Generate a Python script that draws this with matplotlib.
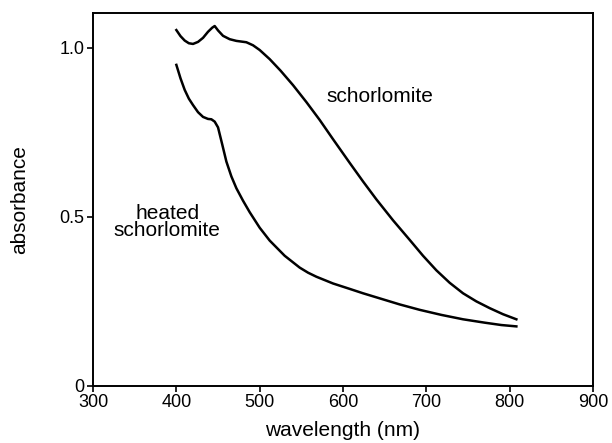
import matplotlib
matplotlib.use("Agg")
import matplotlib.pyplot as plt

plt.rcParams['font.family'] = ['Liberation Sans', 'DejaVu Sans']

# schorlomite spectrum
wl_schorl = [400, 405, 410, 415, 420, 426, 432, 438, 443, 446, 450, 456,
             464, 472, 484, 492, 500, 512, 525, 540, 556, 572, 588, 608,
             624, 640, 660, 680, 696, 712, 728, 744, 760, 776, 792, 808]
abs_schorl = [1.053, 1.035, 1.022, 1.014, 1.012, 1.018, 1.030, 1.048,
              1.060, 1.065, 1.052, 1.036, 1.026, 1.021, 1.017, 1.008,
              0.994, 0.967, 0.933, 0.890, 0.840, 0.787, 0.730, 0.660,
              0.605, 0.552, 0.490, 0.432, 0.385, 0.342, 0.305, 0.274,
              0.250, 0.230, 0.212, 0.197]

# heated schorlomite spectrum
wl_heated = [400, 405, 410, 415, 420, 426, 432, 438, 442, 446, 450, 455,
             460, 466, 472, 480, 488, 500, 512, 530, 548, 558, 568, 588,
             608, 624, 644, 668, 692, 718, 744, 770, 790, 808]
abs_heated = [0.950, 0.910, 0.876, 0.850, 0.831, 0.810, 0.796, 0.790,
              0.789, 0.782, 0.765, 0.715, 0.664, 0.620, 0.585, 0.548,
              0.514, 0.468, 0.430, 0.385, 0.350, 0.335, 0.323, 0.303,
              0.287, 0.274, 0.259, 0.241, 0.225, 0.210, 0.197, 0.187,
              0.180, 0.176]

x_ticks = [300, 400, 500, 600, 700, 800, 900]
y_ticks = [0, 0.5, 1.0]
y_tick_labels = ['0', '0.5', '1.0']

fig = plt.figure(figsize=(6.12, 4.43), dpi=100)
ax = fig.add_axes([0.152, 0.129, 0.817, 0.842])

ax.plot(wl_schorl, abs_schorl, color='black', lw=1.8,
        solid_joinstyle='round')
ax.plot(wl_heated, abs_heated, color='black', lw=1.8,
        solid_joinstyle='round')

ax.text(644, 0.855, 'schorlomite', fontsize=15, ha='center', va='center')
ax.text(389, 0.485, 'heated\nschorlomite', fontsize=15, ha='center',
        va='center', linespacing=0.9)

ax.set_xlim(300, 900)
ax.set_ylim(0, 1.104)
ax.set_xticks(x_ticks)
ax.set_yticks(y_ticks)
ax.set_yticklabels(y_tick_labels)
ax.tick_params(direction='out', length=4, width=1.2, labelsize=13, pad=2)
for s in ax.spines.values():
    s.set_linewidth(1.4)

ax.set_xlabel('wavelength (nm)', fontsize=15, labelpad=7)
ax.set_ylabel('absorbance', fontsize=15, labelpad=22)

fig.savefig('out.png', dpi=100)
